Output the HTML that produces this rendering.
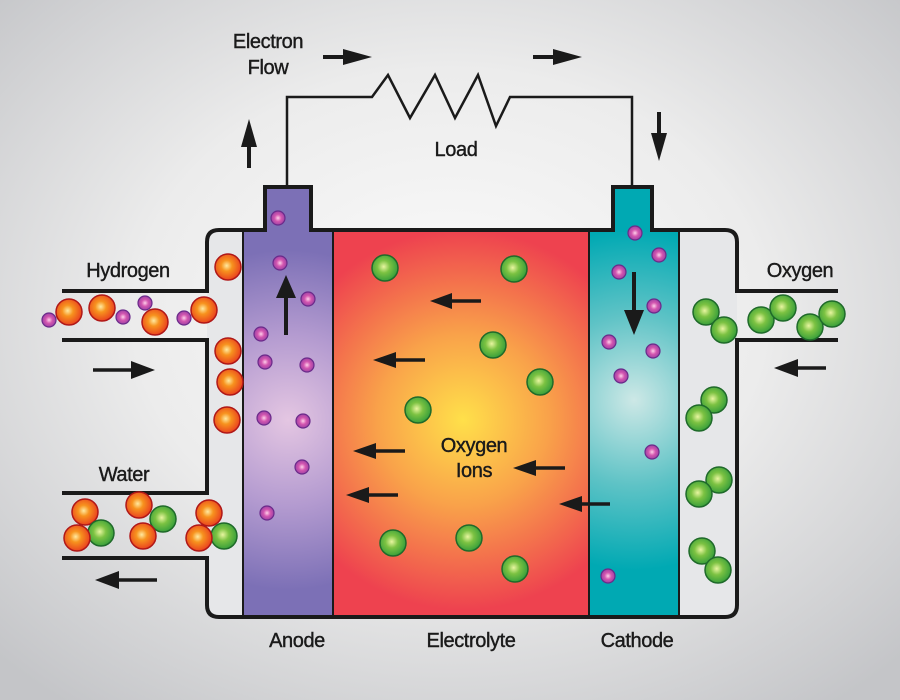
<!DOCTYPE html>
<html><head><meta charset="utf-8"><style>
html,body{margin:0;padding:0;width:900px;height:700px;overflow:hidden}
text{font-family:"Liberation Sans",Arial,sans-serif;font-size:20px;fill:#1a1a1a;stroke:#1a1a1a;stroke-width:0.4;letter-spacing:-0.4px}
</style></head><body>
<svg width="900" height="700" viewBox="0 0 900 700" xmlns="http://www.w3.org/2000/svg">
<defs>
<radialGradient id="bg" cx="50%" cy="45%" r="70%"><stop offset="0" stop-color="#fbfbfb"/><stop offset="0.5" stop-color="#ececec"/><stop offset="1" stop-color="#c4c5c8"/></radialGradient>
<radialGradient id="el" cx="463" cy="420" r="190" gradientUnits="userSpaceOnUse"><stop offset="0" stop-color="#ffe04a"/><stop offset="0.45" stop-color="#f9a24a"/><stop offset="1" stop-color="#ee424f"/></radialGradient>
<radialGradient id="an" cx="288" cy="420" r="170" gradientUnits="userSpaceOnUse"><stop offset="0" stop-color="#e4c6e2"/><stop offset="0.5" stop-color="#b49bd0"/><stop offset="1" stop-color="#7c70b6"/></radialGradient>
<radialGradient id="ca" cx="634" cy="400" r="170" gradientUnits="userSpaceOnUse"><stop offset="0" stop-color="#cde8e6"/><stop offset="0.5" stop-color="#5fc3c6"/><stop offset="1" stop-color="#00a9b3"/></radialGradient>
<radialGradient id="rb" cx="45%" cy="45%" r="60%"><stop offset="0" stop-color="#ffe9a0"/><stop offset="0.35" stop-color="#f7931e"/><stop offset="1" stop-color="#e8381f"/></radialGradient>
<radialGradient id="gb" cx="45%" cy="45%" r="60%"><stop offset="0" stop-color="#e8f5a0"/><stop offset="0.4" stop-color="#7cc242"/><stop offset="1" stop-color="#2e9a3a"/></radialGradient>
<radialGradient id="pb" cx="50%" cy="50%" r="60%"><stop offset="0" stop-color="#ffd0ea"/><stop offset="0.4" stop-color="#d457b0"/><stop offset="1" stop-color="#8a3aa0"/></radialGradient>
<g id="R"><circle r="13" fill="url(#rb)" stroke="#b01818" stroke-width="1.5"/></g>
<g id="G"><circle r="13" fill="url(#gb)" stroke="#1f6a2a" stroke-width="1.5"/></g>
<g id="P"><circle r="7" fill="url(#pb)" stroke="#6a2a8a" stroke-width="1.2"/></g>
</defs>
<rect width="900" height="700" fill="url(#bg)"/>
<path d="M217 230 H727 Q737 230 737 240 V607 Q737 617 727 617 H217 Q207 617 207 607 V240 Q207 230 217 230Z" fill="#e6e7e9"/>
<rect x="243" y="230" width="90" height="387" fill="url(#an)"/>
<rect x="265" y="187" width="46" height="45" fill="#7c70b6"/>
<rect x="333" y="230" width="256" height="387" fill="url(#el)"/>
<rect x="589" y="230" width="90" height="387" fill="url(#ca)"/>
<rect x="613" y="187" width="39" height="45" fill="#00a9b3"/>
<g fill="none" stroke="#1a1a1a" stroke-width="4">
<path d="M62 291 H207 V242 Q207 230 219 230 H265 V187 H311 V230 H613 V187 H652 V230 H725 Q737 230 737 242 V291 H838"/>
<path d="M62 340 H207 V493 H62"/>
<path d="M62 558 H207 V605 Q207 617 219 617 H725 Q737 617 737 605 V340 H838"/>
</g>
<g stroke="#1a1a1a" stroke-width="2" fill="none">
<line x1="243" y1="230" x2="243" y2="617"/><line x1="333" y1="230" x2="333" y2="617"/>
<line x1="589" y1="230" x2="589" y2="617"/><line x1="679" y1="230" x2="679" y2="617"/>
</g>
<path d="M287 187 V97 H372 L388 75 L410 118 L435 75 L455 118 L478 75 L496 126 L510 97 H632 V187" fill="none" stroke="#1a1a1a" stroke-width="2.5"/>
<g fill="#1a1a1a" stroke="#1a1a1a">
<line x1="323" y1="57" x2="345" y2="57" stroke-width="4"/><path d="M343 49 L372 57 L343 65Z" stroke="none"/>
<line x1="533" y1="57" x2="555" y2="57" stroke-width="4"/><path d="M553 49 L582 57 L553 65Z" stroke="none"/>
<line x1="249" y1="168" x2="249" y2="145" stroke-width="4"/><path d="M241 147 L249 119 L257 147Z" stroke="none"/>
<line x1="659" y1="112" x2="659" y2="135" stroke-width="4"/><path d="M651 133 L659 161 L667 133Z" stroke="none"/>
<line x1="286" y1="335" x2="286" y2="296" stroke-width="4"/><path d="M276 298 L286 275 L296 298Z" stroke="none"/>
<line x1="634" y1="272" x2="634" y2="312" stroke-width="4"/><path d="M624 310 L634 335 L644 310Z" stroke="none"/>
<line x1="93" y1="370" x2="133" y2="370" stroke-width="3.5"/><path d="M131 361 L155 370 L131 379Z" stroke="none"/>
<line x1="157" y1="580" x2="117" y2="580" stroke-width="3.5"/><path d="M119 571 L95 580 L119 589Z" stroke="none"/>
<line x1="826" y1="368" x2="796" y2="368" stroke-width="3.5"/><path d="M798 359 L774 368 L798 377Z" stroke="none"/>
<line x1="481" y1="301" x2="450" y2="301" stroke-width="3.5"/><path d="M452 293 L430 301 L452 309Z" stroke="none"/>
<line x1="425" y1="360" x2="394" y2="360" stroke-width="3.5"/><path d="M396 352 L373 360 L396 368Z" stroke="none"/>
<line x1="405" y1="451" x2="374" y2="451" stroke-width="3.5"/><path d="M376 443 L353 451 L376 459Z" stroke="none"/>
<line x1="398" y1="495" x2="367" y2="495" stroke-width="3.5"/><path d="M369 487 L346 495 L369 503Z" stroke="none"/>
<line x1="565" y1="468" x2="534" y2="468" stroke-width="3.5"/><path d="M536 460 L513 468 L536 476Z" stroke="none"/>
<line x1="610" y1="504" x2="580" y2="504" stroke-width="3.5"/><path d="M582 496 L559 504 L582 512Z" stroke="none"/>
</g>
<use href="#P" x="278" y="218"/><use href="#P" x="280" y="263"/><use href="#P" x="308" y="299"/><use href="#P" x="261" y="334"/><use href="#P" x="265" y="362"/><use href="#P" x="307" y="365"/><use href="#P" x="264" y="418"/><use href="#P" x="303" y="421"/><use href="#P" x="302" y="467"/><use href="#P" x="267" y="513"/>
<use href="#P" x="635" y="233"/><use href="#P" x="659" y="255"/><use href="#P" x="619" y="272"/><use href="#P" x="654" y="306"/><use href="#P" x="609" y="342"/><use href="#P" x="653" y="351"/><use href="#P" x="621" y="376"/><use href="#P" x="652" y="452"/><use href="#P" x="608" y="576"/>
<use href="#P" x="49" y="320"/><use href="#R" x="69" y="312"/><use href="#R" x="102" y="308"/><use href="#P" x="123" y="317"/><use href="#P" x="145" y="303"/><use href="#R" x="155" y="322"/><use href="#P" x="184" y="318"/><use href="#R" x="204" y="310"/>
<use href="#R" x="228" y="267"/><use href="#R" x="228" y="351"/><use href="#R" x="230" y="382"/><use href="#R" x="227" y="420"/>
<use href="#R" x="85" y="512"/><use href="#G" x="101" y="533"/><use href="#R" x="77" y="538"/>
<use href="#R" x="139" y="505"/><use href="#G" x="163" y="519"/><use href="#R" x="143" y="536"/>
<use href="#R" x="209" y="513"/><use href="#G" x="224" y="536"/><use href="#R" x="199" y="538"/>
<use href="#G" x="385" y="268"/><use href="#G" x="514" y="269"/><use href="#G" x="493" y="345"/><use href="#G" x="540" y="382"/><use href="#G" x="418" y="410"/><use href="#G" x="393" y="543"/><use href="#G" x="469" y="538"/><use href="#G" x="515" y="569"/>
<use href="#G" x="706" y="312"/><use href="#G" x="724" y="330"/><use href="#G" x="761" y="320"/><use href="#G" x="783" y="308"/><use href="#G" x="810" y="327"/><use href="#G" x="832" y="314"/>
<use href="#G" x="714" y="400"/><use href="#G" x="699" y="418"/><use href="#G" x="719" y="480"/><use href="#G" x="699" y="494"/><use href="#G" x="702" y="551"/><use href="#G" x="718" y="570"/>
<text x="268" y="48" text-anchor="middle">Electron</text>
<text x="268" y="74" text-anchor="middle">Flow</text>
<text x="456" y="156" text-anchor="middle">Load</text>
<text x="128" y="277" text-anchor="middle">Hydrogen</text>
<text x="800" y="277" text-anchor="middle">Oxygen</text>
<text x="124" y="481" text-anchor="middle">Water</text>
<text x="474" y="452" text-anchor="middle">Oxygen</text>
<text x="474" y="477" text-anchor="middle">Ions</text>
<text x="297" y="647" text-anchor="middle">Anode</text>
<text x="471" y="647" text-anchor="middle">Electrolyte</text>
<text x="637" y="647" text-anchor="middle">Cathode</text>
</svg>
</body></html>
